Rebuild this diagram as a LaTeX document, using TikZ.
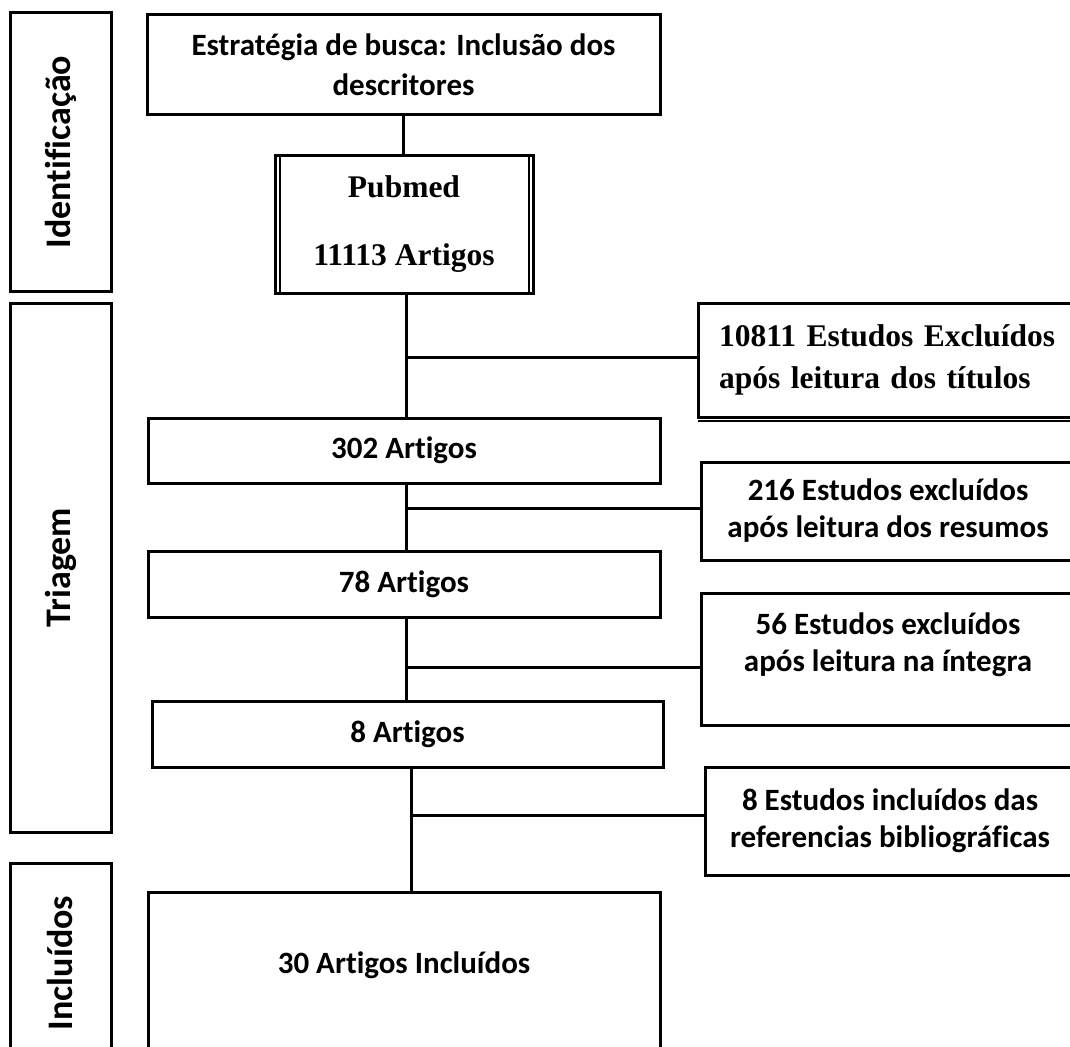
\documentclass[tikz,border=0pt]{standalone}
\usepackage{fontspec}
\newfontfamily\calfont{Carlito}[Ligatures=NoCommon]
\newfontfamily\tnrfont{Liberation Serif}
\begin{document}
\begin{tikzpicture}[x=1pt,y=-1pt,
  every node/.style={inner sep=0pt, outer sep=0pt},
  box/.style={draw=black, line width=3pt, rectangle},
  cal/.style={font=\calfont\bfseries\fontsize{31}{37}\selectfont, align=center},
  tnr/.style={font=\tnrfont\bfseries\fontsize{31.5}{42}\selectfont},
  side/.style={box, rotate=90, font=\calfont\bfseries\fontsize{36}{40}\selectfont},
  conn/.style={draw=black, line width=3pt}]
\useasboundingbox (0,0) rectangle (1070,1046);
\clip (0,0) rectangle (1070,1046);

% stage labels
\node[side, minimum width=278, minimum height=101] (idf) at (60.5,152) {Identificação};
\node[side, minimum width=529, minimum height=101] (tri) at (60.5,567.5) {Triagem};
\node[side, minimum width=200, minimum height=101] (inc) at (60.5,963) {Incluídos};

% main column
\node[box, font=\calfont\bfseries\fontsize{31}{40}\selectfont, align=center,
      minimum width=513, minimum height=100] (top) at (403.5,65)
      {Estratégia de busca: Inclusão dos\\descritores};
\node[box, tnr, align=center, minimum width=258, minimum height=138] (pub) at (404,224)
      {Pubmed\\[26pt]11113 Artigos};
\draw[line width=2pt] ([xshift=4.5pt]pub.north west) -- ([xshift=4.5pt]pub.south west);
\draw[line width=2pt] ([xshift=-4.5pt]pub.north east) -- ([xshift=-4.5pt]pub.south east);

\node[box, cal, minimum width=512, minimum height=65] (a302) at (404,450.5) {302 Artigos};
\node[box, cal, minimum width=512, minimum height=66] (a78) at (404,584) {78 Artigos};
\node[box, cal, minimum width=511, minimum height=66] (a8) at (407.5,734) {8 Artigos};
\node[box, minimum width=512, minimum height=173] (fin) at (404,978.5) {};
\node[cal] (fint) at (404,965) {30 Artigos Incluídos};

% right column
\node[box, tnr, align=left, text width=352, inner xsep=21pt, minimum height=114] (ex1) at (895,360)
      {10811 Estudos Excluídos\\após leitura dos títulos};
\draw[line width=2pt] ([yshift=-4pt]ex1.south west) -- ([yshift=-4pt]ex1.south east);
\node[box, cal, minimum width=374, minimum height=98] (ex2) at (888,511)
      {216 Estudos excluídos\\após leitura dos resumos};
\node[box, minimum width=374, minimum height=132] (ex3) at (888,659) {};
\node[cal] (ex3t) at (888,645) {56 Estudos excluídos\\após leitura na íntegra};
\node[box, cal, minimum width=370, minimum height=108] (ex4) at (890,821)
      {8 Estudos incluídos das\\referencias bibliográficas};

% connectors
\coordinate (sp) at (406,0);
\coordinate (sp2) at (411,0);
\draw[conn] (top.south) -- (top.south |- pub.north);
\draw[conn] (pub.south -| sp) -- (a302.north -| sp);
\draw[conn] (a302.south -| sp) -- (a78.north -| sp);
\draw[conn] (a78.south -| sp) -- (a8.north -| sp);
\draw[conn] (a8.south -| sp2) -- (fin.north -| sp2);
\coordinate (b1) at (406,357);
\coordinate (b2) at (406,508);
\coordinate (b3) at (406,667);
\coordinate (b4) at (411,815);
\draw[conn] (b1) -- (b1 -| ex1.west);
\draw[conn] (b2) -- (b2 -| ex2.west);
\draw[conn] (b3) -- (b3 -| ex3.west);
\draw[conn] (b4) -- (b4 -| ex4.west);
\end{tikzpicture}
\end{document}
